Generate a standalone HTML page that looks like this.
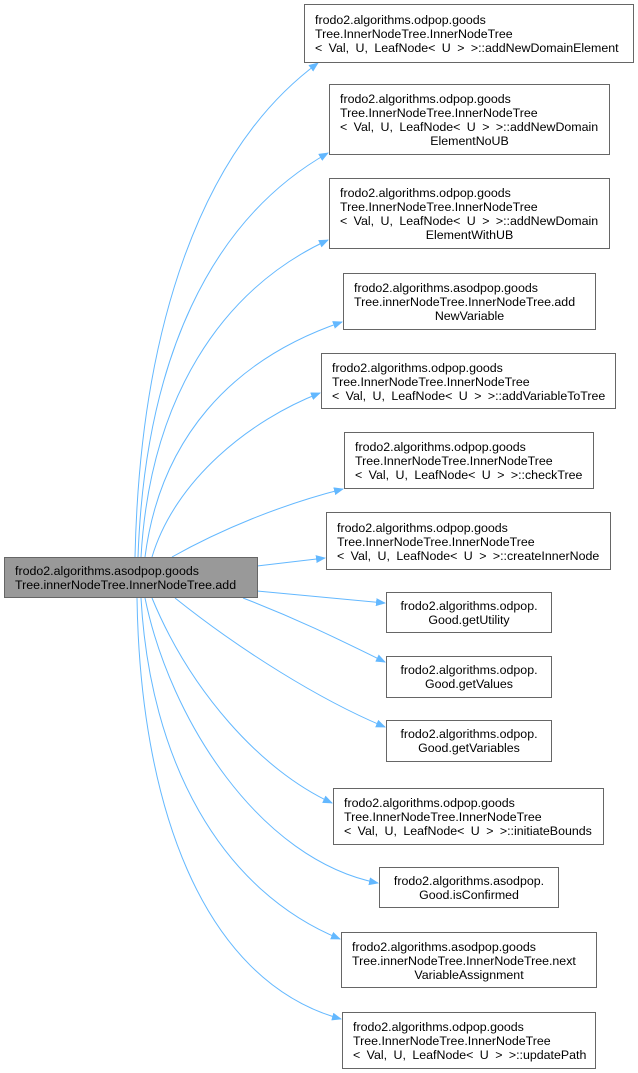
<!DOCTYPE html>
<html><head><meta charset="utf-8"><style>
body{margin:0;background:#fff;width:638px;height:1073px;position:relative;overflow:hidden;font-family:"Liberation Sans",Arial,sans-serif;}
.b{position:absolute;box-sizing:border-box;border:1px solid #666;background:#fff;font-size:12.4px;line-height:14px;color:#000;padding:0 0 0 10px;white-space:nowrap;}
.c{text-align:center;padding:0;}
.l{display:block;text-align:left}
.w{word-spacing:3px}
svg{position:absolute;left:0;top:0}
</style></head><body>
<svg width="638" height="1073">
<defs><marker id="a" markerWidth="10" markerHeight="8" refX="9" refY="4" orient="auto" markerUnits="userSpaceOnUse"><path d="M0,0 L10,4 L0,8 z" fill="#63b8ff"/></marker></defs>
<g fill="none" stroke="#63b8ff" stroke-width="1" marker-end="url(#a)">
<path d="M135,557 C140,330 200,150 318,63"/>
<path d="M138,557 C145,360 210,220 328,153"/>
<path d="M141,557 C150,400 220,290 328,240"/>
<path d="M145,557 C160,440 230,360 342,322"/>
<path d="M152,557 C175,480 250,420 320,393"/>
<path d="M172,557 C220,530 280,505 343,489"/>
<path d="M257,566 L325,558"/>
<path d="M257,591 L385,603"/>
<path d="M243,598 C300,620 340,640 385,662"/>
<path d="M175,598 C240,650 320,700 385,727"/>
<path d="M152,598 C190,690 260,770 332,803"/>
<path d="M145,598 C170,720 260,860 378,883"/>
<path d="M141,598 C150,760 220,890 340,939"/>
<path d="M137,598 C140,800 200,980 341,1019"/>
</g></svg>
<div class="b" style="left:4px;top:557px;width:254px;height:41px;background:#999;padding-top:6px">frodo2.algorithms.asodpop.goods<br>Tree.innerNodeTree.InnerNodeTree.add</div>
<div class="b" style="left:304px;top:4px;width:330px;height:59px;padding-top:8px">frodo2.algorithms.odpop.goods<br>Tree.InnerNodeTree.InnerNodeTree<br><span class="w">&lt; Val, U, LeafNode&lt; U &gt; &gt;::addNewDomainElement</span></div>
<div class="b c" style="left:329px;top:84px;width:281px;height:71px;padding-top:7px"><span class="l" style="padding-left:10px">frodo2.algorithms.odpop.goods<br>Tree.InnerNodeTree.InnerNodeTree<br><span class="w">&lt; Val, U, LeafNode&lt; U &gt; &gt;::addNewDomain</span></span>ElementNoUB</div>
<div class="b c" style="left:329px;top:178px;width:281px;height:71px;padding-top:7px"><span class="l" style="padding-left:10px">frodo2.algorithms.odpop.goods<br>Tree.InnerNodeTree.InnerNodeTree<br><span class="w">&lt; Val, U, LeafNode&lt; U &gt; &gt;::addNewDomain</span></span>ElementWithUB</div>
<div class="b c" style="left:343px;top:273px;width:253px;height:57px;padding-top:7px"><span class="l" style="padding-left:10px">frodo2.algorithms.asodpop.goods<br>Tree.innerNodeTree.InnerNodeTree.add</span>NewVariable</div>
<div class="b" style="left:321px;top:353px;width:295px;height:56px;padding-top:7px">frodo2.algorithms.odpop.goods<br>Tree.InnerNodeTree.InnerNodeTree<br><span class="w">&lt; Val, U, LeafNode&lt; U &gt; &gt;::addVariableToTree</span></div>
<div class="b" style="left:344px;top:432px;width:250px;height:57px;padding-top:7px">frodo2.algorithms.odpop.goods<br>Tree.InnerNodeTree.InnerNodeTree<br><span class="w">&lt; Val, U, LeafNode&lt; U &gt; &gt;::checkTree</span></div>
<div class="b" style="left:326px;top:512px;width:285px;height:58px;padding-top:8px">frodo2.algorithms.odpop.goods<br>Tree.InnerNodeTree.InnerNodeTree<br><span class="w">&lt; Val, U, LeafNode&lt; U &gt; &gt;::createInnerNode</span></div>
<div class="b c" style="left:386px;top:592px;width:166px;height:41px;padding-top:6px">frodo2.algorithms.odpop.<br>Good.getUtility</div>
<div class="b c" style="left:386px;top:656px;width:166px;height:42px;padding-top:6px">frodo2.algorithms.odpop.<br>Good.getValues</div>
<div class="b c" style="left:386px;top:720px;width:166px;height:42px;padding-top:6px">frodo2.algorithms.odpop.<br>Good.getVariables</div>
<div class="b" style="left:333px;top:788px;width:271px;height:57px;padding-top:7px">frodo2.algorithms.odpop.goods<br>Tree.InnerNodeTree.InnerNodeTree<br><span class="w">&lt; Val, U, LeafNode&lt; U &gt; &gt;::initiateBounds</span></div>
<div class="b c" style="left:379px;top:867px;width:180px;height:41px;padding-top:6px">frodo2.algorithms.asodpop.<br>Good.isConfirmed</div>
<div class="b c" style="left:341px;top:932px;width:256px;height:56px;padding-top:7px"><span class="l" style="padding-left:10px">frodo2.algorithms.asodpop.goods<br>Tree.innerNodeTree.InnerNodeTree.next</span>VariableAssignment</div>
<div class="b" style="left:342px;top:1012px;width:254px;height:57px;padding-top:7px">frodo2.algorithms.odpop.goods<br>Tree.InnerNodeTree.InnerNodeTree<br><span class="w">&lt; Val, U, LeafNode&lt; U &gt; &gt;::updatePath</span></div>
</body></html>
